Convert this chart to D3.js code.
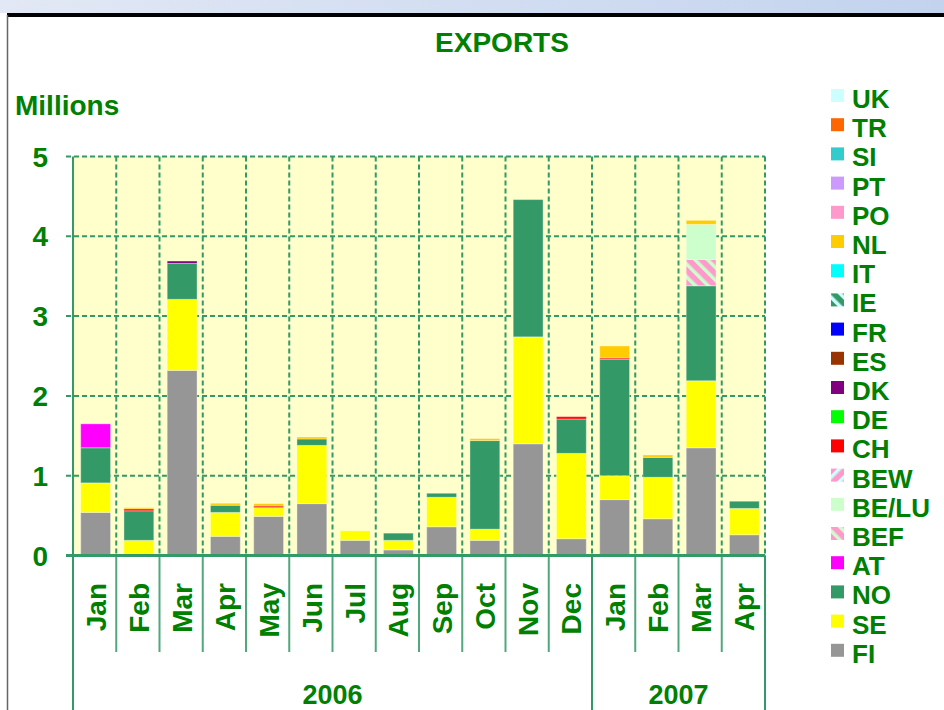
<!DOCTYPE html>
<html>
<head>
<meta charset="utf-8">
<script src="https://cdn.jsdelivr.net/npm/d3@7"></script>
<style>
  body { margin: 0; background: #fff; }
  svg { display: block; }
  text { font-family: "Liberation Sans", Arial, sans-serif; font-weight: bold; fill: #008000; }
</style>
</head>
<body>
<div id="chart"></div>
<script>
// month labels and year groups
var months = ["Jan", "Feb", "Mar", "Apr", "May", "Jun", "Jul", "Aug", "Sep", "Oct", "Nov", "Dec",
              "Jan", "Feb", "Mar", "Apr"]
var years = ["2006", "2007"]
var yearSpans = [12, 4]
var yTicks = [0, 1, 2, 3, 4, 5]

// stacked from the bottom up, millions
var countries = ["FI", "SE", "NO", "AT", "BEF", "BE/LU", "BEW", "CH", "DE", "DK",
                 "ES", "FR", "IE", "IT", "NL", "PO", "PT", "SI", "TR", "UK"]

var FI  = [0.54, 0, 2.32, 0.24, 0.49, 0.65, 0.19, 0.07, 0.36, 0.19, 1.40, 0.21, 0.70, 0.46, 1.35, 0.26]
var SE  = [0.37, 0.19, 0.89, 0.30, 0.11, 0.73, 0.12, 0.12, 0.37, 0.14, 1.34, 1.07, 0.30, 0.52, 0.84, 0.33]
var NO  = [0.44, 0.37, 0.45, 0.09, 0, 0.08, 0, 0.09, 0.05, 1.11, 1.72, 0.43, 1.46, 0.25, 1.19, 0.09]
var AT  = [0.30, 0, 0, 0, 0, 0, 0, 0, 0, 0, 0, 0, 0, 0, 0, 0]
var BEF = [0, 0, 0, 0, 0, 0, 0, 0, 0, 0, 0, 0, 0, 0, 0.33, 0]
var BELU = [0, 0, 0, 0, 0, 0, 0, 0, 0, 0, 0, 0, 0, 0, 0.44, 0]
var BEW = [0, 0, 0, 0, 0, 0, 0, 0, 0, 0, 0, 0, 0, 0, 0, 0]
var CH  = [0, 0.025, 0, 0, 0.02, 0, 0, 0, 0, 0, 0, 0.03, 0.016, 0, 0, 0]
var DE  = [0, 0, 0, 0, 0, 0, 0, 0, 0, 0, 0, 0, 0, 0, 0, 0]
var DK  = [0, 0, 0.03, 0, 0, 0, 0, 0, 0, 0, 0, 0, 0, 0, 0, 0]
var ES  = [0, 0, 0, 0, 0, 0, 0, 0, 0, 0, 0, 0, 0, 0, 0, 0]
var FR  = [0, 0, 0, 0, 0, 0, 0, 0, 0, 0, 0, 0, 0, 0, 0, 0]
var IE  = [0, 0, 0, 0, 0, 0, 0, 0, 0, 0, 0, 0, 0, 0, 0, 0]
var IT  = [0, 0, 0, 0, 0, 0, 0, 0, 0, 0, 0, 0, 0, 0, 0, 0]
var NL  = [0, 0.015, 0, 0.025, 0.03, 0.025, 0, 0, 0, 0.025, 0, 0, 0.15, 0.03, 0.05, 0]
var PO  = [0, 0, 0, 0, 0, 0, 0, 0, 0, 0, 0, 0, 0, 0, 0, 0]
var PT  = [0, 0, 0, 0, 0, 0, 0, 0, 0, 0, 0, 0, 0, 0, 0, 0]
var SI  = [0, 0, 0, 0, 0, 0, 0, 0, 0, 0, 0, 0, 0, 0, 0, 0]
var TR  = [0, 0, 0, 0, 0, 0, 0, 0, 0, 0, 0, 0, 0, 0, 0, 0]
var UK  = [0, 0, 0, 0, 0, 0, 0, 0, 0, 0, 0, 0, 0, 0, 0, 0]

var seriesValues = [FI, SE, NO, AT, BEF, BELU, BEW, CH, DE, DK, ES, FR, IE, IT, NL, PO, PT, SI, TR, UK]

var colors = {
  "FI": "#969696", "SE": "#ffff00", "NO": "#339966", "AT": "#ff00ff",
  "BEF": "url(#pBEF)", "BE/LU": "#ccffcc", "BEW": "url(#pBEW)", "CH": "#ff0000",
  "DE": "#00ff00", "DK": "#800080", "ES": "#993300", "FR": "#0000ff",
  "IE": "url(#pIE)", "IT": "#00ffff", "NL": "#ffcc00", "PO": "#ff99cc",
  "PT": "#cc99ff", "SI": "#33cccc", "TR": "#ff6600", "UK": "#ccffff"
}

var W = 944, H = 710
var svg = d3.select("#chart").append("svg").attr("width", W).attr("height", H)

// page frame: gradient band, black rule, grey left edge
var defs = svg.append("defs")
var grad = defs.append("linearGradient").attr("id", "band")
grad.append("stop").attr("offset", "0%").attr("stop-color", "#e2e8f5")
grad.append("stop").attr("offset", "100%").attr("stop-color", "#c3d3ee")
svg.append("rect").attr("x", 0).attr("y", 0).attr("width", W).attr("height", 13).attr("fill", "url(#band)")
svg.append("rect").attr("x", 7).attr("y", 13).attr("width", W - 7).attr("height", 4).attr("fill", "#000")
svg.append("line").attr("x1", 7.5).attr("x2", 7.5).attr("y1", 15).attr("y2", H)
  .attr("stroke", "#666").attr("stroke-width", 1.5)

// hatch patterns
function stripes(id, base, stripe, angle) {
  var p = defs.append("pattern").attr("id", id).attr("patternUnits", "userSpaceOnUse")
    .attr("width", 9).attr("height", 9).attr("patternTransform", "rotate(" + angle + ")")
  p.append("rect").attr("width", 9).attr("height", 9).attr("fill", base)
  p.append("rect").attr("width", 3.5).attr("height", 9).attr("fill", stripe)
}
stripes("pBEF", "#ff99cc", "#ccffcc", -45)
stripes("pBEW", "#ff99cc", "#ccffff", 45)
stripes("pIE", "#339966", "#ccffff", -45)

var x = d3.scaleBand().domain(d3.range(months.length)).range([73, 765])
  .paddingInner(0.31).paddingOuter(0.155)
var y = d3.scaleLinear().domain([0, 5]).range([555.5, 156.5])

var left = x.range()[0], right = x.range()[1], step = x.step()
var green = "#339966"

// plot background
svg.append("rect").attr("x", left).attr("y", y(5)).attr("width", right - left)
  .attr("height", y(0) - y(5)).attr("fill", "#ffffcc")

// dashed grid
svg.selectAll("line.hgrid").data(yTicks.slice(1)).enter().append("line")
  .attr("class", "hgrid")
  .attr("x1", left - 7).attr("x2", right)
  .attr("y1", d => y(d)).attr("y2", d => y(d))
  .attr("stroke", green).attr("stroke-width", 2).attr("stroke-dasharray", "5,3")
svg.selectAll("line.vgrid").data(d3.range(1, months.length + 1)).enter().append("line")
  .attr("class", "vgrid")
  .attr("x1", d => left + d * step).attr("x2", d => left + d * step)
  .attr("y1", y(5)).attr("y2", y(0))
  .attr("stroke", green).attr("stroke-width", 2).attr("stroke-dasharray", "5,3")

// stacked bars
var table = months.map(function (m, i) {
  var row = { i: i }
  countries.forEach(function (c, k) { row[c] = seriesValues[k][i] })
  return row
})
var stack = d3.stack().keys(countries)(table)

svg.selectAll("g.layer").data(stack).enter().append("g")
  .attr("class", "layer")
  .attr("fill", d => colors[d.key])
  .selectAll("rect").data(d => d.filter(p => p[1] - p[0] > 0)).enter().append("rect")
  .attr("x", d => x(d.data.i) + 1)
  .attr("width", x.bandwidth())
  .attr("y", d => y(d[1]))
  .attr("height", d => y(d[0]) - y(d[1]))
  .attr("stroke", "rgba(255,255,255,0.35)").attr("stroke-width", 1)

// axes lines
svg.append("line").attr("x1", left - 7).attr("x2", right).attr("y1", y(0)).attr("y2", y(0))
  .attr("stroke", green).attr("stroke-width", 3)
svg.append("line").attr("x1", left).attr("x2", left).attr("y1", y(5)).attr("y2", H)
  .attr("stroke", green).attr("stroke-width", 2)

// month separators under the axis
svg.selectAll("line.msep").data(d3.range(1, months.length + 1)).enter().append("line")
  .attr("class", "msep")
  .attr("x1", d => left + d * step).attr("x2", d => left + d * step)
  .attr("y1", y(0)).attr("y2", 652)
  .attr("stroke", green).attr("stroke-width", 2).attr("opacity", 0.85)

// year separators
var cum = 0
years.forEach(function (yr, k) {
  var start = cum
  cum += yearSpans[k]
  svg.append("line").attr("x1", left + cum * step).attr("x2", left + cum * step)
    .attr("y1", y(0)).attr("y2", H).attr("stroke", green).attr("stroke-width", 2)
  svg.append("text").attr("x", left + (start + cum) / 2 * step).attr("y", 704)
    .attr("text-anchor", "middle").attr("font-size", 27).text(yr)
})

// month labels
svg.selectAll("text.month").data(months).enter().append("text")
  .attr("class", "month")
  .attr("transform", (d, i) => "translate(" + (x(i) + x.bandwidth() / 2 + 11) + ",583) rotate(-90)")
  .attr("text-anchor", "end").attr("font-size", 28)
  .text(d => d)

// y tick labels
svg.selectAll("text.ytick").data(yTicks).enter().append("text")
  .attr("class", "ytick")
  .attr("x", 48).attr("y", d => y(d) + 10)
  .attr("text-anchor", "end").attr("font-size", 28)
  .text(d => d)

svg.append("text").attr("x", 15).attr("y", 115).attr("font-size", 28).text("Millions")
svg.append("text").attr("x", 502).attr("y", 52).attr("text-anchor", "middle")
  .attr("font-size", 28).text("EXPORTS")

// legend, top to bottom is reverse stacking order
var legendKeys = countries.slice().reverse()
var leg = svg.selectAll("g.leg").data(legendKeys).enter().append("g")
  .attr("class", "leg")
  .attr("transform", (d, i) => "translate(831," + (108 + i * 29.2) + ")")
leg.append("rect").attr("x", 0).attr("y", -19).attr("width", 13).attr("height", 13)
  .attr("fill", d => colors[d])
leg.append("text").attr("x", 21).attr("y", 0).attr("font-size", 26).text(d => d)
</script>
</body>
</html>
